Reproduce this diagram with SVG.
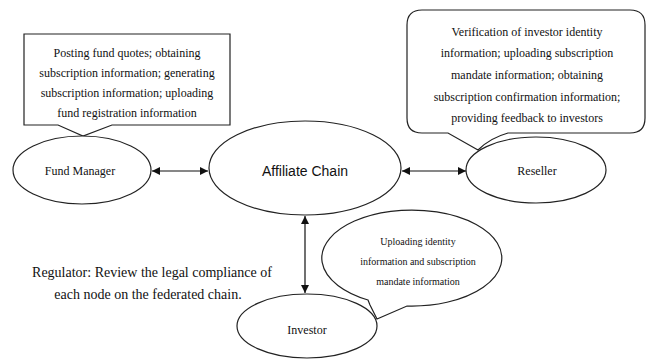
<svg xmlns="http://www.w3.org/2000/svg" width="647" height="359" viewBox="0 0 647 359">
<style>
.shape{fill:#fff;stroke:#222;stroke-width:1.2}
.t{font-family:"Liberation Serif","Times New Roman",serif;fill:#111;text-anchor:middle}
.s{font-family:"Liberation Sans",Arial,sans-serif;fill:#111;text-anchor:middle}
.con{stroke:#111;stroke-width:1.2;fill:none}
</style>
<defs>
<marker id="ah" viewBox="0 0 10 10" refX="10" refY="5" markerWidth="8" markerHeight="8" markerUnits="userSpaceOnUse" orient="auto-start-reverse">
<path d="M0,0 L10,5 L0,10 Z" fill="#111"/>
</marker>
</defs>
<rect width="647" height="359" fill="#fff"/>
<g id="connectors">
<line class="con" x1="152" y1="171" x2="208" y2="171" marker-start="url(#ah)" marker-end="url(#ah)"/>
<line class="con" x1="402" y1="171" x2="466" y2="171" marker-start="url(#ah)" marker-end="url(#ah)"/>
<line class="con" x1="305" y1="216" x2="305" y2="293" marker-start="url(#ah)" marker-end="url(#ah)"/>
</g>
<g id="fund-manager-note">
<path class="shape" d="M24,34 H230 V125 H112 L83,136 L58,125 H24 Z"/>
<text class="t" font-size="12" x="127" y="57">Posting fund quotes; obtaining</text>
<text class="t" font-size="12" x="127" y="77">subscription information; generating</text>
<text class="t" font-size="12" x="127" y="97">subscription information; uploading</text>
<text class="t" font-size="12" x="127" y="117">fund registration information</text>
</g>
<g id="reseller-note">
<path class="shape" d="M422,10 H630 Q645,10 645,25 V118 Q645,133 630,133 H508 Q490,138 478,150 L448,133 H422 Q407,133 407,118 V25 Q407,10 422,10 Z"/>
<text class="t" font-size="12" x="527" y="36">Verification of investor identity</text>
<text class="t" font-size="12" x="527" y="57">information; uploading subscription</text>
<text class="t" font-size="12" x="527" y="79">mandate information; obtaining</text>
<text class="t" font-size="12" x="527" y="101">subscription confirmation information;</text>
<text class="t" font-size="12" x="527" y="122">providing feedback to investors</text>
</g>
<g id="fund-manager">
<ellipse class="shape" cx="82" cy="170" rx="69" ry="34"/>
<text class="t" font-size="12" x="80" y="175">Fund Manager</text>
</g>
<g id="affiliate-chain">
<ellipse class="shape" cx="305" cy="168" rx="96" ry="47"/>
<text class="s" font-size="14" x="305" y="176">Affiliate Chain</text>
</g>
<g id="reseller">
<ellipse class="shape" cx="536" cy="170" rx="70" ry="33"/>
<text class="t" font-size="12" x="537" y="175">Reseller</text>
</g>
<g id="investor">
<ellipse class="shape" cx="307" cy="326" rx="70" ry="32"/>
<text class="t" font-size="12" x="307" y="334">Investor</text>
</g>
<g id="investor-note">
<path class="shape" d="M368,300 A90,48 0 1 1 407,306 L377,319 L370,305 Z"/>
<text class="t" font-size="10" x="418" y="245">Uploading identity</text>
<text class="t" font-size="10" x="418" y="265">information and subscription</text>
<text class="t" font-size="10" x="418" y="285">mandate information</text>
</g>
<g id="regulator">
<text class="t" font-size="14" x="152" y="277">Regulator: Review the legal compliance of</text>
<text class="t" font-size="14" x="148" y="299">each node on the federated chain.</text>
</g>
</svg>
